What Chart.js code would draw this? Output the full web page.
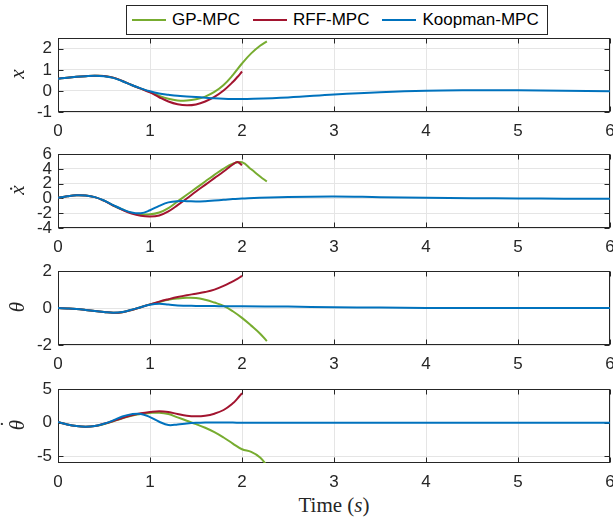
<!DOCTYPE html>
<html>
<head>
<meta charset="utf-8">
<script src="https://cdn.jsdelivr.net/npm/chart.js@4"></script>
<style>
  html, body { margin: 0; padding: 0; background: #fff; width: 613px; height: 519px; overflow: hidden; }
  .panel { position: absolute; left: 0; width: 640px; height: 120px; }
  #legend {
    position: absolute; left: 126px; top: 5px; width: 422px; height: 30px;
    box-sizing: border-box; border: 1px solid #262626; background: #fff;
    display: flex; align-items: center; padding-left: 5px; white-space: nowrap;
    font: 17px 'Liberation Sans', Arial, sans-serif; color: #000; z-index: 5;
  }
  #legend .item { display: flex; align-items: center; margin-right: 13px; flex: none; }
  #legend .swatch { width: 34px; height: 2px; margin-right: 6px; flex: none; }
  #xlabel {
    position: absolute; left: 234px; width: 200px; top: 493px; text-align: center;
    font: 21px 'Liberation Serif', 'Times New Roman', serif; color: #262626;
  }
  .ylabel {
    position: absolute; left: 17px; transform: translate(-50%, -50%) rotate(-90deg);
    font: italic 21px 'Liberation Serif', 'Times New Roman', serif; color: #262626;
    line-height: 1; white-space: nowrap; z-index: 5;
  }
  .ylabel .dot { position: relative; display: inline-block; }
  .ylabel .dot::after {
    content: "\02D9"; position: absolute; left: 0.1em; right: 0; top: -0.42em;
    text-align: center; font-style: normal;
  }
</style>
</head>
<body>
<div class="panel" style="top:22px"><canvas id="posChart" width="640" height="120"></canvas></div>
<div class="panel" style="top:138px"><canvas id="velChart" width="640" height="120"></canvas></div>
<div class="panel" style="top:255px"><canvas id="angChart" width="640" height="120"></canvas></div>
<div class="panel" style="top:373px"><canvas id="angVelChart" width="640" height="120"></canvas></div>
<div class="ylabel" style="top:74px">x</div>
<div class="ylabel" style="top:190px">ẋ</div>
<div class="ylabel" style="top:307px">θ</div>
<div class="ylabel" style="top:425px"><span class="dot">θ</span></div>
<div id="legend"></div>
<div id="xlabel">Time (<i>s</i>)</div>
<script>
// series
const seriesNames = ["GP-MPC", "RFF-MPC", "Koopman-MPC"];
const seriesColors = ["#77AC30", "#A2142F", "#0072BD"];

// time samples (s)
const timeGP = [0, 0.1, 0.2, 0.3, 0.4, 0.5, 0.6, 0.7, 0.8, 0.9, 1.0, 1.1, 1.2, 1.3, 1.4, 1.5, 1.6, 1.7, 1.8, 1.9, 2.0, 2.1, 2.2, 2.27];
const timeRFF = [0, 0.1, 0.2, 0.3, 0.4, 0.5, 0.6, 0.7, 0.8, 0.9, 1.0, 1.1, 1.2, 1.3, 1.4, 1.5, 1.6, 1.7, 1.8, 1.9, 1.95, 2.0];
const timeKoop = [0, 0.1, 0.2, 0.3, 0.4, 0.5, 0.6, 0.7, 0.8, 0.9, 1.0, 1.1, 1.2, 1.3, 1.4, 1.5, 1.6, 1.7, 1.8, 1.9, 2.0, 2.5, 3, 3.5, 4, 4.5, 5, 5.5, 6];

// x
const posGP = [0.58, 0.63, 0.67, 0.70, 0.72, 0.71, 0.63, 0.47, 0.28, 0.11, -0.05, -0.23, -0.37, -0.45, -0.46, -0.40, -0.27, -0.05, 0.28, 0.75, 1.3, 1.78, 2.15, 2.35];
const posRFF = [0.58, 0.63, 0.67, 0.70, 0.72, 0.71, 0.63, 0.47, 0.28, 0.11, -0.07, -0.3, -0.5, -0.63, -0.68, -0.64, -0.5, -0.28, 0.02, 0.42, 0.66, 0.92];
const posKoop = [0.58, 0.63, 0.67, 0.70, 0.72, 0.70, 0.62, 0.46, 0.28, 0.12, -0.02, -0.12, -0.18, -0.23, -0.26, -0.29, -0.32, -0.35, -0.37, -0.38, -0.38, -0.31, -0.17, -0.06, 0.01, 0.03, 0.03, 0.01, -0.01];

// x dot
const velGP = [0.1, 0.3, 0.44, 0.4, 0.18, -0.3, -0.95, -1.5, -1.95, -2.15, -2.15, -1.9, -1.3, -0.4, 0.5, 1.4, 2.3, 3.2, 4.05, 4.7, 4.9, 3.95, 2.95, 2.3];
const velRFF = [0.1, 0.3, 0.44, 0.4, 0.18, -0.3, -0.95, -1.55, -2.05, -2.35, -2.45, -2.3, -1.75, -0.9, 0.0, 0.95, 1.85, 2.75, 3.65, 4.6, 4.95, 4.5];
const velKoop = [0.1, 0.3, 0.44, 0.4, 0.18, -0.27, -0.9, -1.47, -1.9, -2.0, -1.6, -1.0, -0.53, -0.36, -0.36, -0.4, -0.36, -0.27, -0.18, -0.08, 0.0, 0.2, 0.27, 0.18, 0.1, 0.04, 0.0, -0.02, -0.03];

// theta
const angGP = [0, -0.02, -0.05, -0.1, -0.16, -0.21, -0.25, -0.22, -0.1, 0.05, 0.2, 0.33, 0.45, 0.52, 0.56, 0.55, 0.45, 0.3, 0.12, -0.17, -0.53, -0.95, -1.4, -1.79];
const angRFF = [0, -0.02, -0.05, -0.1, -0.16, -0.21, -0.25, -0.22, -0.1, 0.05, 0.2, 0.35, 0.48, 0.6, 0.7, 0.78, 0.87, 1.0, 1.2, 1.45, 1.58, 1.75];
const angKoop = [0, -0.02, -0.05, -0.1, -0.16, -0.21, -0.25, -0.21, -0.09, 0.05, 0.18, 0.23, 0.19, 0.14, 0.13, 0.12, 0.11, 0.11, 0.1, 0.1, 0.1, 0.08, 0.05, 0.03, 0.01, 0, 0, 0, 0];

// theta dot
const angVelGP = [0.1, -0.25, -0.5, -0.6, -0.5, -0.2, 0.2, 0.65, 1.05, 1.3, 1.45, 1.5, 1.3, 0.8, 0.3, -0.2, -0.75, -1.4, -2.2, -3.1, -3.95, -4.35, -5.2, -6.4];
const angVelRFF = [0.1, -0.25, -0.5, -0.6, -0.5, -0.15, 0.25, 0.7, 1.1, 1.4, 1.6, 1.72, 1.6, 1.3, 1.05, 0.97, 1.05, 1.35, 1.9, 2.9, 3.6, 4.4];
const angVelKoop = [0.1, -0.25, -0.5, -0.6, -0.5, -0.15, 0.35, 0.93, 1.27, 1.32, 0.83, 0.15, -0.34, -0.25, -0.1, 0, 0.05, 0.05, 0.03, 0.02, 0, 0, 0, 0, 0, 0, 0, 0, 0];

// ticks
const timeTicks = [0, 1, 2, 3, 4, 5, 6];
const posTicks = [-1, 0, 1, 2];
const velTicks = [-4, -2, 0, 2, 4, 6];
const angTicks = [-2, 0, 2];
const angVelTicks = [-5, 0, 5];

const AXIS_COLOR = "#262626";
const GRID_COLOR = "#e5e5e5";
const TICK_FONT = { family: "'Liberation Sans', Arial, sans-serif", size: 17 };

// box + inward tick marks like matlab
const matlabAxes = {
  id: "matlabAxes",
  beforeDatasetsDraw(chart) {
    const { ctx, chartArea: a, scales } = chart;
    const l = Math.round(a.left) + 0.5, r = Math.round(a.right) - 0.5;
    const t = Math.round(a.top) + 0.5, b = Math.round(a.bottom) - 0.5;
    ctx.save();
    ctx.strokeStyle = AXIS_COLOR;
    ctx.lineWidth = 1;
    ctx.strokeRect(l, t, r - l, b - t);
    ctx.beginPath();
    scales.x.ticks.forEach((tk) => {
      const px = Math.round(scales.x.getPixelForValue(tk.value)) + 0.5;
      ctx.moveTo(px, b); ctx.lineTo(px, b - 5);
      ctx.moveTo(px, t); ctx.lineTo(px, t + 5);
    });
    scales.y.ticks.forEach((tk) => {
      const py = Math.round(scales.y.getPixelForValue(tk.value)) + 0.5;
      ctx.moveTo(l, py); ctx.lineTo(l + 5, py);
      ctx.moveTo(r, py); ctx.lineTo(r - 5, py);
    });
    ctx.stroke();
    ctx.restore();
  },
};

function toPoints(t, v) {
  return t.map((x, i) => ({ x: x, y: v[i] }));
}

function makePanel(id, values, yMin, yMax, yTicks) {
  const times = [timeGP, timeRFF, timeKoop];
  return new Chart(document.getElementById(id).getContext("2d"), {
    type: "line",
    data: {
      datasets: values.map((v, i) => ({
        label: seriesNames[i],
        data: toPoints(times[i], v),
        borderColor: seriesColors[i],
        borderWidth: 2,
        pointRadius: 0,
        tension: 0.4,
        fill: false,
        order: 2 - i, // Koopman on top
      })),
    },
    options: {
      responsive: false,
      animation: false,
      layout: { padding: { top: 14, left: 0, right: 30, bottom: 4 } },
      plugins: { legend: { display: false }, tooltip: { enabled: false } },
      scales: {
        x: {
          type: "linear",
          min: 0,
          max: 6,
          afterBuildTicks: (s) => { s.ticks = timeTicks.map((v) => ({ value: v })); },
          afterFit: (s) => { s.height = 26; },
          ticks: { font: TICK_FONT, color: AXIS_COLOR, padding: 9, maxRotation: 0, autoSkip: false },
          grid: { color: GRID_COLOR, drawTicks: false },
          border: { display: false },
        },
        y: {
          min: yMin,
          max: yMax,
          afterBuildTicks: (s) => { s.ticks = yTicks.map((v) => ({ value: v })); },
          afterFit: (s) => { s.width = 58; },
          ticks: { font: TICK_FONT, color: AXIS_COLOR, padding: 6, autoSkip: false },
          grid: { color: GRID_COLOR, drawTicks: false },
          border: { display: false },
        },
      },
    },
    plugins: [matlabAxes],
  });
}

const posChart = makePanel("posChart", [posGP, posRFF, posKoop], -1, 2.5, posTicks);
const velChart = makePanel("velChart", [velGP, velRFF, velKoop], -4, 6, velTicks);
const angChart = makePanel("angChart", [angGP, angRFF, angKoop], -2, 2, angTicks);
const angVelChart = makePanel("angVelChart", [angVelGP, angVelRFF, angVelKoop], -6, 5, angVelTicks);

// shared legend
const legendEl = document.getElementById("legend");
seriesNames.forEach((name, i) => {
  const item = document.createElement("span");
  item.className = "item";
  item.innerHTML = '<span class="swatch" style="background:' + seriesColors[i] + '"></span>' + name;
  legendEl.appendChild(item);
});
</script>
</body>
</html>
